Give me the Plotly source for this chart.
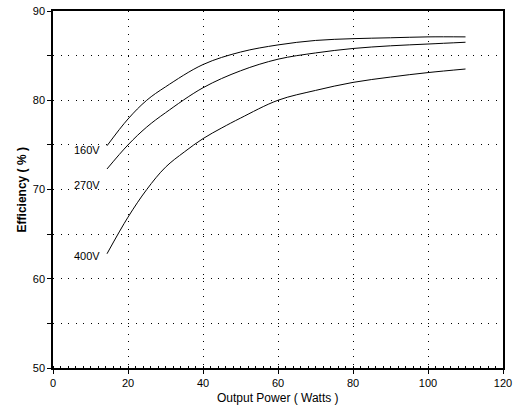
import plotly.graph_objects as go

# Data
x160 = [14.4, 20, 25, 30, 40, 50, 60, 70, 80, 90, 100, 110]
y160 = [74.9, 77.9, 80.0, 81.5, 84.0, 85.4, 86.2, 86.7, 86.9, 87.0, 87.1, 87.1]

x270 = [14.4, 20, 25, 30, 40, 50, 60, 70, 80, 90, 100, 110]
y270 = [72.3, 75.0, 77.0, 78.6, 81.4, 83.3, 84.6, 85.3, 85.8, 86.1, 86.3, 86.5]

x400 = [14.4, 20, 25, 30, 35, 40, 45, 50, 60, 70, 80, 90, 100, 110]
y400 = [62.8, 66.9, 70.0, 72.5, 74.2, 75.7, 76.9, 78.0, 80.0, 81.1, 82.0, 82.6, 83.1, 83.5]

labels = ["160V", "270V", "400V"]
label_x = [13.0, 13.0, 13.0]
label_y = [74.4, 70.5, 62.5]

x_ticks = [0, 20, 40, 60, 80, 100, 120]
y_ticks = [50, 60, 70, 80, 90]

FONT = "Liberation Sans, Arial, Helvetica"

fig = go.Figure()
for xs, ys in [(x160, y160), (x270, y270), (x400, y400)]:
    fig.add_trace(go.Scatter(x=xs, y=ys, mode="lines",
                             line=dict(color="black", width=1.0, shape="spline", smoothing=1.0),
                             showlegend=False, hoverinfo="skip"))

for t, lx, ly in zip(labels, label_x, label_y):
    fig.add_annotation(x=lx, y=ly, text=t, showarrow=False, xanchor="right", yanchor="middle",
                       font=dict(family=FONT, size=11, color="black"))

fig.add_annotation(xref="paper", yref="paper", x=0.5, y=-0.058, text="Output Power ( Watts )",
                   showarrow=False, xanchor="center", yanchor="top",
                   font=dict(family=FONT, size=12, color="black"))
fig.add_annotation(xref="paper", yref="paper", x=-0.069, y=0.5, text="<b>Efficiency ( % )</b>",
                   showarrow=False, xanchor="center", yanchor="middle", textangle=-90,
                   font=dict(family=FONT, size=12, color="black"))

grid_dash = "1px,6.5px"
fig.update_layout(
    width=515, height=407,
    margin=dict(l=53, r=12, t=11, b=39),
    paper_bgcolor="white", plot_bgcolor="white",
    font=dict(family=FONT, size=11, color="black"),
)
fig.update_xaxes(
    range=[0, 120], tickvals=x_ticks, ticks="outside", ticklen=4, tickcolor="black",
    showline=True, linecolor="black", linewidth=1.5, mirror=True,
    showgrid=True, gridcolor="black", griddash=grid_dash, gridwidth=1,
    zeroline=False, automargin=False,
    tickfont=dict(family=FONT, size=11, color="black"),
    minor=dict(dtick=2, ticks="inside", ticklen=2, tickcolor="black", showgrid=False),
)
fig.update_yaxes(
    range=[50, 90], tickvals=y_ticks, ticks="outside", ticklen=4, tickcolor="black",
    showline=True, linecolor="black", linewidth=1.5, mirror=True,
    showgrid=True, gridcolor="black", griddash=grid_dash, gridwidth=1,
    zeroline=False, automargin=False,
    tickfont=dict(family=FONT, size=11, color="black"),
    minor=dict(dtick=5, ticks="outside", ticklen=4, tickcolor="black", showgrid=True,
               gridcolor="black", griddash=grid_dash, gridwidth=1),
)

fig.write_html("out.html", config={"displayModeBar": False},
               post_script="document.body.style.margin='0px';")
